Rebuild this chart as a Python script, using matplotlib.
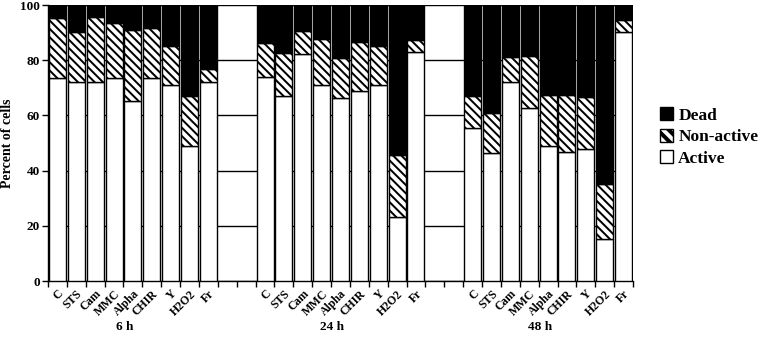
import matplotlib
matplotlib.use('Agg')
import matplotlib.pyplot as plt
import matplotlib.patches as mpatches
import matplotlib.transforms as mtransforms
from matplotlib.legend_handler import HandlerTuple
import numpy as np

plt.rcParams['font.family'] = ['Liberation Serif', 'DejaVu Serif']
plt.rcParams['font.weight'] = 'bold'
plt.rcParams['hatch.linewidth'] = 2.8

treatments = ["C", "STS", "Cam", "MMC", "Alpha", "CHIR", "Y", "H2O2", "Fr"]
timepoints = ["6 h", "24 h", "48 h"]

active_6h = [73.7, 72.2, 72.2, 73.7, 65.2, 73.7, 71.0, 48.9, 72.2]
nonactive_6h = [21.5, 17.9, 23.6, 19.7, 25.7, 17.8, 14.3, 18.1, 4.5]
dead_6h = [4.8, 9.9, 4.2, 6.6, 9.1, 8.5, 14.7, 33.0, 23.3]

active_24h = [74.0, 67.1, 82.1, 71.0, 66.4, 68.8, 71.0, 23.2, 82.9]
nonactive_24h = [12.4, 15.6, 8.5, 16.6, 14.5, 17.8, 14.3, 22.5, 4.4]
dead_24h = [13.6, 17.3, 9.4, 12.4, 19.1, 13.4, 14.7, 54.3, 12.7]

active_48h = [55.6, 46.5, 72.0, 62.8, 49.0, 46.6, 47.8, 15.1, 90.1]
nonactive_48h = [11.5, 14.5, 9.3, 18.7, 18.4, 20.8, 19.0, 19.9, 4.5]
dead_48h = [32.9, 39.0, 18.7, 18.5, 32.6, 32.6, 33.2, 65.0, 5.4]

actives = [active_6h, active_24h, active_48h]
nonactives = [nonactive_6h, nonactive_24h, nonactive_48h]
deads = [dead_6h, dead_24h, dead_48h]

fig = plt.figure(figsize=(7.62, 3.44), dpi=100)
ax = fig.add_axes([48/762, 1-281/344, (633-48)/762, 276/344])

n = len(treatments)
gap = 2
width = 0.9
hatch = '\\\\\\\\'

label_pos = []
label_txt = []
for g, tp in enumerate(timepoints):
    pos = np.arange(n) + g*(n+gap)
    a = np.array(actives[g]); na = np.array(nonactives[g]); d = np.array(deads[g])
    ax.bar(pos, a, width, facecolor='white', edgecolor='black', linewidth=1, zorder=3)
    ax.bar(pos, na, width, bottom=a, facecolor='black', edgecolor='white',
           hatch=hatch, linewidth=0, zorder=3)
    ax.bar(pos, na, width, bottom=a, fill=False, edgecolor='black', linewidth=1, zorder=4)
    ax.bar(pos, d, width, bottom=a+na, facecolor='black', edgecolor='black', linewidth=1, zorder=3)
    label_pos.extend(pos)
    label_txt.extend(treatments)
    trans = mtransforms.blended_transform_factory(ax.transData, ax.transAxes)
    ax.text(pos.mean() - 0.45, -0.167, tp, transform=trans, ha='center', va='center',
            fontsize=9.5, fontweight='bold')

total = 3*n + 2*gap
ax.set_xlim(-0.5, total - 0.5)
ax.set_ylim(0, 100)
ax.set_yticks([0, 20, 40, 60, 80, 100])
ax.set_xticks(np.arange(-0.5, total, 1.0))
ax.set_xticklabels([])
ax.set_xticks(label_pos, minor=True)
ax.set_xticklabels(label_txt, minor=True, rotation=45, ha='right',
                   rotation_mode='anchor', fontsize=8.5, fontweight='bold')
ax.tick_params(axis='x', which='minor', length=0, pad=5)
ax.tick_params(axis='x', which='major', length=4, width=1, direction='out')
ax.tick_params(axis='y', length=4, width=1, direction='out', labelsize=9.5, pad=2)
for lbl in ax.get_yticklabels():
    lbl.set_fontweight('bold')

ax.yaxis.grid(True, color='black', linewidth=1)
ax.set_axisbelow(True)
for s in ['top', 'right']:
    ax.spines[s].set_visible(False)
ax.spines['left'].set_linewidth(1)
ax.spines['bottom'].set_linewidth(1)

ax.set_ylabel('Percent of cells', fontsize=10, fontweight='bold')
ax.yaxis.set_label_coords(-0.058, 0.5)

h_dead = mpatches.Patch(facecolor='black', edgecolor='black')
h_non_bg = mpatches.Patch(facecolor='black', edgecolor='white', hatch='\\\\\\', linewidth=0)
h_non_bd = mpatches.Patch(fill=False, edgecolor='black')
h_act = mpatches.Patch(facecolor='white', edgecolor='black')
fig.legend([h_dead, (h_non_bg, h_non_bd), h_act], ['Dead', 'Non-active', 'Active'],
           handler_map={tuple: HandlerTuple(ndivide=1)},
           loc='center left', bbox_to_anchor=(660/762, 1-137/344), frameon=False,
           handlelength=0.75, handleheight=0.75, handletextpad=0.3,
           labelspacing=0.3, borderpad=0, borderaxespad=0,
           prop={'weight': 'bold', 'size': 12.5})

fig.savefig('out.png', dpi=100)
